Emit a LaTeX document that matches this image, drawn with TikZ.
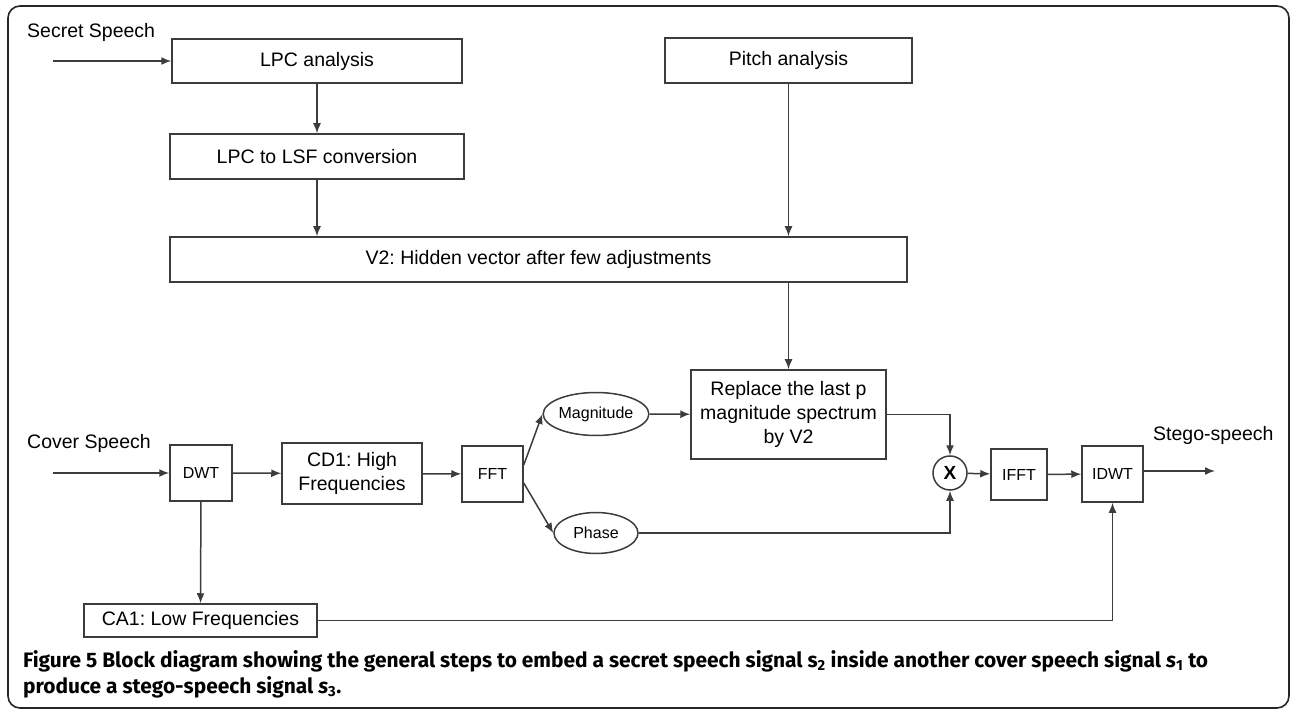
\documentclass[tikz,border=0pt]{standalone}
\usepackage{fontspec}
\setmainfont{Liberation Sans}
\newfontfamily\capfont{Fira Sans}
\usepackage{tikz}
\usetikzlibrary{arrows.meta,shapes.geometric}
\definecolor{lineclr}{RGB}{60,60,60}
\frenchspacing

\tikzset{
    blk/.style={draw=lineclr, line width=1.5pt, align=center, inner sep=0pt,
        font=\fontsize{19.5}{24}\selectfont},
    sblk/.style={blk, font=\fontsize{16}{19}\selectfont},
    lbl/.style={anchor=west, inner sep=0pt, font=\fontsize{19.5}{24}\selectfont},
    arr/.style={draw=lineclr, line width=1.5pt, -{Latex[length=10pt,width=8pt]}}
}

\begin{document}
\begin{tikzpicture}[x=1pt, y=-1pt]
    \useasboundingbox (0,0) rectangle (1291,711);
    \draw[line width=1.6pt, black!85, rounded corners=12pt] (8,6) rectangle (1289,708);

    \node[lbl] (secret) at (27,32) {Secret Speech};
    \node[lbl] (cover) at (27,443) {Cover Speech};
    \node[lbl] (stego) at (1153,435) {Stego-speech};
    \coordinate (sin) at (53,61);
    \coordinate (cin) at (53,473);
    \coordinate (sout) at (1215,471);

    \node[blk, minimum width=290pt, minimum height=44pt] (lpc) at (317,61) {LPC analysis};
    \node[blk, minimum width=294pt, minimum height=45pt] (lsf) at (317,156.5) {LPC to LSF conversion};
    \node[blk, minimum width=247pt, minimum height=45pt] (pitch) at (788.5,60.5) {Pitch analysis};
    \node[blk, minimum width=737pt, minimum height=45pt] (vtwo) at (538.5,259.5) {V2: Hidden vector after few adjustments};
    \node[blk, minimum width=195pt, minimum height=89pt] (repl) at (788.5,414.5) {Replace the last p\\magnitude spectrum\\by V2};

    \node[sblk, minimum width=62pt, minimum height=56pt] (dwt) at (201,473) {DWT};
    \node[blk, minimum width=140pt, minimum height=61pt] (cdone) at (352,473.5) {CD1: High\\Frequencies};
    \node[sblk, minimum width=61pt, minimum height=56pt] (fft) at (492.5,474) {FFT};
    \node[sblk, ellipse, minimum width=84pt, minimum height=43pt] (mag) at (596,414) {Magnitude};
    \node[sblk, ellipse, minimum width=84pt, minimum height=41pt] (phase) at (596,533) {Phase};
    \node[blk, circle, minimum size=34pt, font=\fontsize{19}{22}\selectfont\bfseries] (mult) at (950,473) {X};
    \node[sblk, minimum width=56pt, minimum height=51pt] (ifft) at (1019,474.5) {IFFT};
    \node[sblk, minimum width=61pt, minimum height=56pt] (idwt) at (1112.5,474) {IDWT};
    \node[blk, minimum width=233pt, minimum height=33pt] (caone) at (200.5,620.5) {CA1: Low Frequencies};

    \draw[arr] (sin) -- (lpc.west);
    \draw[arr] (lpc) -- (lsf);
    \draw[arr] (lsf) -- (lsf |- vtwo.north);
    \draw[arr] (pitch) -- (pitch |- vtwo.north);
    \draw[arr] (pitch |- vtwo.south) -- (repl);
    \draw[arr] (cin) -- (dwt.west);
    \draw[arr] (dwt) -- (cdone);
    \draw[arr] (dwt) -- (caone);
    \draw[arr] (cdone) -- (fft);
    \draw[arr] ([yshift=9pt]fft.east) -- (mag.west);
    \draw[arr] ([yshift=-9pt]fft.east) -- (phase.west);
    \draw[arr] (mag) -- (repl);
    \draw[arr] (repl.east) -| (mult.north);
    \draw[arr] (phase.east) -| (mult.south);
    \draw[arr] (mult) -- (ifft);
    \draw[arr] (ifft) -- (idwt);
    \draw[arr] (caone.east) -| (idwt.south);
    \draw[arr] (idwt.east |- sout) -- (sout);

    \node[anchor=north west, inner sep=0pt, align=left, font=\capfont\bfseries\fontsize{20.9}{26}\selectfont] (caption) at (23,650)
        {Figure 5 Block diagram showing the general steps to embed a secret speech signal s\textsubscript{2} inside another cover speech signal \textit{s}\textsubscript{1} to\\
        produce a stego-speech signal \textit{s}\textsubscript{3}.};
\end{tikzpicture}
\end{document}
